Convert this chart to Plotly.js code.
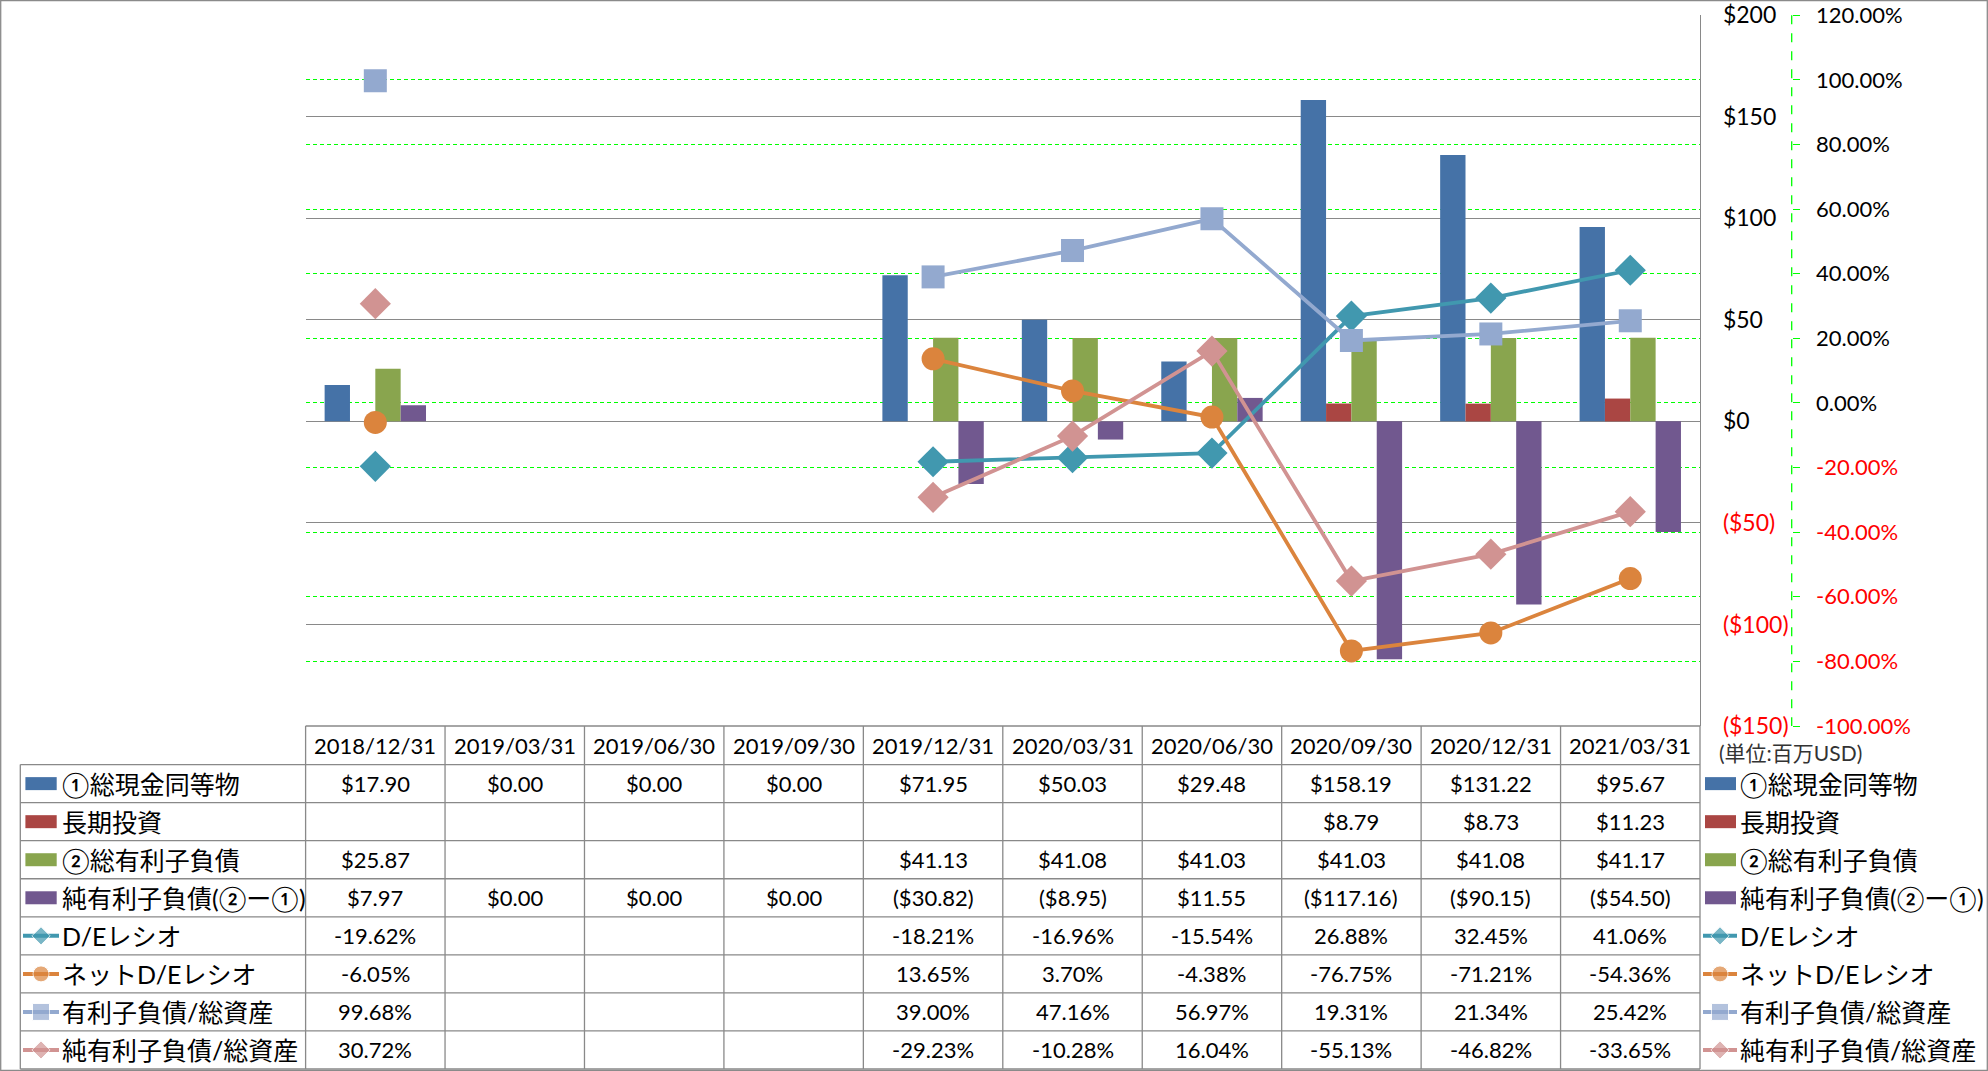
<!DOCTYPE html>
<html>
<head>
<meta charset="utf-8">
<script src="https://cdn.plot.ly/plotly-3.0.1.min.js"></script>
<style>
html, body { margin: 0; padding: 0; background: #fff; }
#chart { width: 1988px; height: 1071px; }
</style>
</head>
<body>
<div id="chart"></div>
<script>
// data
const dates = ["2018/12/31", "2019/03/31", "2019/06/30", "2019/09/30", "2019/12/31",
  "2020/03/31", "2020/06/30", "2020/09/30", "2020/12/31", "2021/03/31"];
const cash = [17.90, 0, 0, 0, 71.95, 50.03, 29.48, 158.19, 131.22, 95.67];
const longInv = [null, null, null, null, null, null, null, 8.79, 8.73, 11.23];
const debt = [25.87, null, null, null, 41.13, 41.08, 41.03, 41.03, 41.08, 41.17];
const netDebt = [7.97, 0, 0, 0, -30.82, -8.95, 11.55, -117.16, -90.15, -54.50];
const deRatio = [-19.62, null, null, null, -18.21, -16.96, -15.54, 26.88, 32.45, 41.06];
const netDeRatio = [-6.05, null, null, null, 13.65, 3.70, -4.38, -76.75, -71.21, -54.36];
const debtToAssets = [99.68, null, null, null, 39.00, 47.16, 56.97, 19.31, 21.34, 25.42];
const netDebtToAssets = [30.72, null, null, null, -29.23, -10.28, 16.04, -55.13, -46.82, -33.65];
const moneyTicks = [-150, -100, -50, 0, 50, 100, 150, 200];
const pctTicks = [-100, -80, -60, -40, -20, 0, 20, 40, 60, 80, 100, 120];
const unitLabel = "(単位:百万USD)";

const barSeries = [
  { name: "①総現金同等物", values: cash, color: "#4572A7" },
  { name: "長期投資", values: longInv, color: "#AA4643" },
  { name: "②総有利子負債", values: debt, color: "#89A54E" },
  { name: "純有利子負債(②ー①)", values: netDebt, color: "#71588F" },
];
const lineSeries = [
  { name: "D/Eレシオ", values: deRatio, color: "#4198AF", symbol: "diamond", size: 24, icon: 14 },
  { name: "ネットD/Eレシオ", values: netDeRatio, color: "#DB843D", symbol: "circle", size: 23, icon: 16 },
  { name: "有利子負債/総資産", values: debtToAssets, color: "#93A9CF", symbol: "square", size: 23, icon: 17 },
  { name: "純有利子負債/総資産", values: netDebtToAssets, color: "#D19392", symbol: "diamond", size: 24, icon: 14 },
];

// geometry (pixels)
const W = 1988, H = 1071;
const PL = 305.6, PR = 1700, PT = 15.2, PB = 726;
const AX2 = 1791.7;
const TL = 20.3;
const ROW0 = 764.6, ROWH = 38.05;
const colW = (PR - PL) / dates.length;
const FONT = "Lato, 'Noto Sans CJK JP', sans-serif";
const GRID = "#898989";

const px = x => x / W;
const py = y => 1 - y / H;
const rowMid = i => ROW0 + (i + 0.5) * ROWH;

function fmtMoney(v) {
  if (v === null) return "";
  return v < 0 ? "($" + Math.abs(v).toFixed(2) + ")" : "$" + v.toFixed(2);
}
function fmtPct(v) {
  if (v === null) return "";
  return v.toFixed(2) + "%";
}

let data = [];
barSeries.forEach(s => {
  data.push({
    type: "bar", x: dates, y: s.values, name: s.name,
    marker: { color: s.color, line: { width: 0 } },
    xaxis: "x", yaxis: "y", hoverinfo: "skip",
  });
});
lineSeries.forEach(s => {
  data.push({
    type: "scatter", mode: "lines+markers", x: dates, y: s.values, name: s.name,
    line: { color: s.color, width: 3.8 },
    marker: { color: s.color, symbol: s.symbol, size: s.size },
    connectgaps: false, xaxis: "x", yaxis: "y2", hoverinfo: "skip",
  });
});

// legend icons for table (left) and side legend (right)
let shapes = [];
let annotations = [];
const allSeries = barSeries.concat(lineSeries);
allSeries.forEach((s, i) => {
  let yc = rowMid(i);
  if (i < barSeries.length) {
    [[25.4, 56.7], [1705, 1736]].forEach(([a, b]) => {
      shapes.push({
        type: "rect", xref: "paper", yref: "paper",
        x0: px(a), x1: px(b), y0: py(yc - 6.5), y1: py(yc + 6.5),
        fillcolor: s.color, line: { width: 0 },
      });
    });
  } else {
    data.push({
      type: "scatter", mode: "lines+markers",
      x: [23, 41, 59, null, 1703, 1720, 1737],
      y: [yc, yc, yc, null, yc, yc, yc],
      line: { color: s.color, width: 4 },
      marker: { color: s.color, symbol: s.symbol, size: [0, s.icon, 0, 0, 0, s.icon, 0] },
      xaxis: "x3", yaxis: "y3", hoverinfo: "skip", showlegend: false,
    });
  }
  annotations.push({
    xref: "paper", yref: "paper", x: px(60), y: py(yc), xanchor: "left", yanchor: "middle",
    text: s.name, showarrow: false, font: { size: 25 },
  });
  annotations.push({
    xref: "paper", yref: "paper", x: px(1738), y: py(yc), xanchor: "left", yanchor: "middle",
    text: s.name, showarrow: false, font: { size: 25 },
  });
  let fmt = i < barSeries.length ? fmtMoney : fmtPct;
  s.values.forEach((v, j) => {
    if (v === null) return;
    annotations.push({
      xref: "x", yref: "paper", x: dates[j], y: py(yc), xanchor: "center", yanchor: "middle",
      text: fmt(v), showarrow: false, font: { size: 22 },
    });
  });
});

// header
dates.forEach(d => {
  annotations.push({
    xref: "x", yref: "paper", x: d, y: py((PB + ROW0) / 2), xanchor: "center", yanchor: "middle",
    text: d, showarrow: false, font: { size: 22 },
  });
});
annotations.push({
  xref: "paper", yref: "paper", x: px(1717), y: py(753), xanchor: "left", yanchor: "middle",
  text: unitLabel, showarrow: false, font: { size: 21, color: "#333333" },
});

// table lines
function hline(y, x0, x1) {
  shapes.push({ type: "line", xref: "paper", yref: "paper", x0: px(x0), x1: px(x1), y0: py(y), y1: py(y),
    line: { color: GRID, width: 1.3 } });
}
function vline(x, y0, y1, color, dash) {
  shapes.push({ type: "line", xref: "paper", yref: "paper", x0: px(x), x1: px(x), y0: py(y0), y1: py(y1),
    line: { color: color || GRID, width: 1.3, dash: dash || "solid" } });
}
hline(PB, PL, PR);
for (let i = 0; i <= allSeries.length; i++) hline(ROW0 + i * ROWH, TL, PR);
vline(TL, ROW0, ROW0 + allSeries.length * ROWH);
for (let j = 0; j <= dates.length; j++) vline(PL + j * colW, PB, ROW0 + allSeries.length * ROWH);
vline(AX2, PT, PB, "#00FF00", "dash");
shapes.push({ type: "rect", xref: "paper", yref: "paper", x0: px(0.7), x1: px(W - 0.7), y0: py(0.7), y1: py(H - 0.7),
  line: { color: "#8a8a8a", width: 1.3 } });

const moneyText = moneyTicks.map(v => v < 0 ? '<span style="color:#FF0000">($' + (-v) + ')</span>' : "$" + v);
const pctText = pctTicks.map(v => v < 0 ? '<span style="color:#FF0000">' + v.toFixed(2) + '%</span>' : v.toFixed(2) + "%");

let layout = {
  width: W, height: H,
  margin: { l: 0, r: 0, t: 0, b: 0, pad: 0 },
  paper_bgcolor: "#ffffff", plot_bgcolor: "rgba(0,0,0,0)",
  font: { family: FONT, size: 22, color: "#000000" },
  showlegend: false,
  barmode: "group", bargap: 0.273, bargroupgap: 0,
  xaxis: {
    domain: [px(PL), px(PR)], type: "category", range: [-0.5, dates.length - 0.5],
    showticklabels: false, showgrid: false, zeroline: false, showline: false, ticks: "",
  },
  yaxis: {
    domain: [py(PB), py(PT)], range: [-150, 200], side: "right",
    tickvals: moneyTicks, ticktext: moneyText, tickfont: { size: 23 },
    showgrid: true, gridcolor: GRID, gridwidth: 1, zeroline: false,
    showline: true, linecolor: GRID, linewidth: 1.3, ticks: "", ticklabelstandoff: 17,
  },
  yaxis2: {
    overlaying: "y", side: "right", anchor: "free", position: px(AX2), range: [-100, 120],
    tickvals: pctTicks, ticktext: pctText, tickfont: { size: 22 },
    showgrid: true, gridcolor: "#00FF00", griddash: "4px,3px", gridwidth: 1, zeroline: false,
    showline: false, ticks: "outside", ticklen: 7, tickcolor: "#00FF00", ticklabelstandoff: 12,
  },
  xaxis3: { domain: [0, 1], range: [0, W], visible: false, anchor: "y3", fixedrange: true },
  yaxis3: { domain: [0, 1], range: [H, 0], visible: false, anchor: "x3", fixedrange: true },
  shapes: shapes,
  annotations: annotations,
};

Plotly.newPlot("chart", data, layout, { displayModeBar: false, staticPlot: true });
</script>
</body>
</html>
